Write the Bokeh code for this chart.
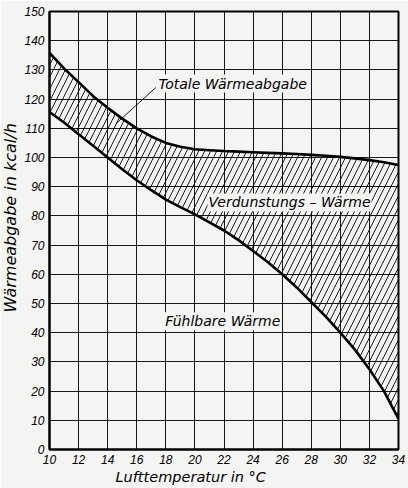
from bokeh.plotting import figure
from bokeh.models import Range1d, FixedTicker, Label, Title
from bokeh.embed import file_html
from bokeh.resources import INLINE

# Data
temps = [10, 11, 12, 13, 14, 15, 16, 17, 18, 19, 20, 21, 22, 23, 24, 25, 26, 27, 28, 29, 30, 31, 32, 33, 34]
total_heat = [135.8, 130.5, 125.8, 121, 117, 113.3, 110, 107.2, 105, 103.7, 102.8, 102.5, 102.2, 102, 101.8,
              101.6, 101.4, 101.2, 100.9, 100.6, 100.2, 99.7, 99.1, 98.4, 97.4]
sensible_heat = [115.6, 112, 108, 104, 100, 96, 92.2, 88.8, 85.6, 83, 80.5, 77.8, 75, 71.7, 68,
                 64.2, 60, 55.5, 50.5, 45.5, 40, 34.2, 27.5, 20, 10.5]

x_ticks = [10, 12, 14, 16, 18, 20, 22, 24, 26, 28, 30, 32, 34]
y_ticks = [0, 10, 20, 30, 40, 50, 60, 70, 80, 90, 100, 110, 120, 130, 140, 150]

label_total = "Totale Wärmeabgabe"
label_evap = "Verdunstungs – Wärme"
label_sens = "Fühlbare Wärme"
x_title = "Lufttemperatur in °C"
y_title = "Wärmeabgabe in kcal/h"
leader_x = [14.55, 17.32]
leader_y = [111.5, 124]

TICK_FONT = "Liberation Sans"
FONT = "DejaVu Sans"
BG = "#f4f4f2"

p = figure(width=408, height=488, output_backend="svg", toolbar_location=None,
           x_range=Range1d(10, 34), y_range=Range1d(0, 150),
           background_fill_color=BG, border_fill_color=BG,
           min_border_left=49, min_border_right=10, min_border_top=11, min_border_bottom=39)

# hatched band between curves
p.varea(x=temps, y1=sensible_heat, y2=total_heat, fill_alpha=0,
        hatch_pattern="/", hatch_color="black", hatch_weight=0.9, hatch_scale=12)

p.line(temps, total_heat, line_color="black", line_width=2.6)
p.line(temps, sensible_heat, line_color="black", line_width=2.6)
p.line(leader_x, leader_y, line_color="black", line_width=0.9)

for txt, x, y in [(label_total, 17.42, 125.3), (label_evap, 20.87, 84.6), (label_sens, 17.89, 43.9)]:
    p.add_layout(Label(x=x, y=y, text=txt, text_font=FONT, text_font_style="italic",
                       text_font_size="14px", text_baseline="middle", text_align="left",
                       text_color="black",
                       background_fill_color=BG, background_fill_alpha=1.0,
                       padding=1))

# axis titles, off-centre as in the reference
p.add_layout(Title(text=x_title, align="left", offset=66, text_font=FONT,
                   text_font_style="italic", text_font_size="14.5px", text_color="black",
                   standoff=0), "below")
p.add_layout(Title(text=y_title, align="left", offset=137, text_font=FONT,
                   text_font_style="italic", text_font_size="16px", text_color="black",
                   standoff=0, vertical_align="top"), "left")

for ax in (p.xaxis[0], p.yaxis[0]):
    ax.major_label_text_font = TICK_FONT
    ax.major_label_text_font_style = "italic"
    ax.major_label_text_font_size = "12px"
    ax.major_label_text_color = "black"
    ax.major_tick_out = 0
    ax.major_tick_in = 0
    ax.minor_tick_out = 0
    ax.minor_tick_in = 0
    ax.axis_line_color = "black"
    ax.axis_line_width = 2
    ax.major_label_standoff = 5

p.xaxis.ticker = FixedTicker(ticks=x_ticks)
p.yaxis.ticker = FixedTicker(ticks=y_ticks)

p.xgrid.grid_line_color = "black"
p.ygrid.grid_line_color = "black"
p.xgrid.grid_line_width = 1
p.ygrid.grid_line_width = 1
p.xgrid.grid_line_alpha = 0.9
p.ygrid.grid_line_alpha = 0.9
p.outline_line_color = "black"
p.outline_line_width = 2

open("out.html", "w").write(file_html(p, INLINE))
